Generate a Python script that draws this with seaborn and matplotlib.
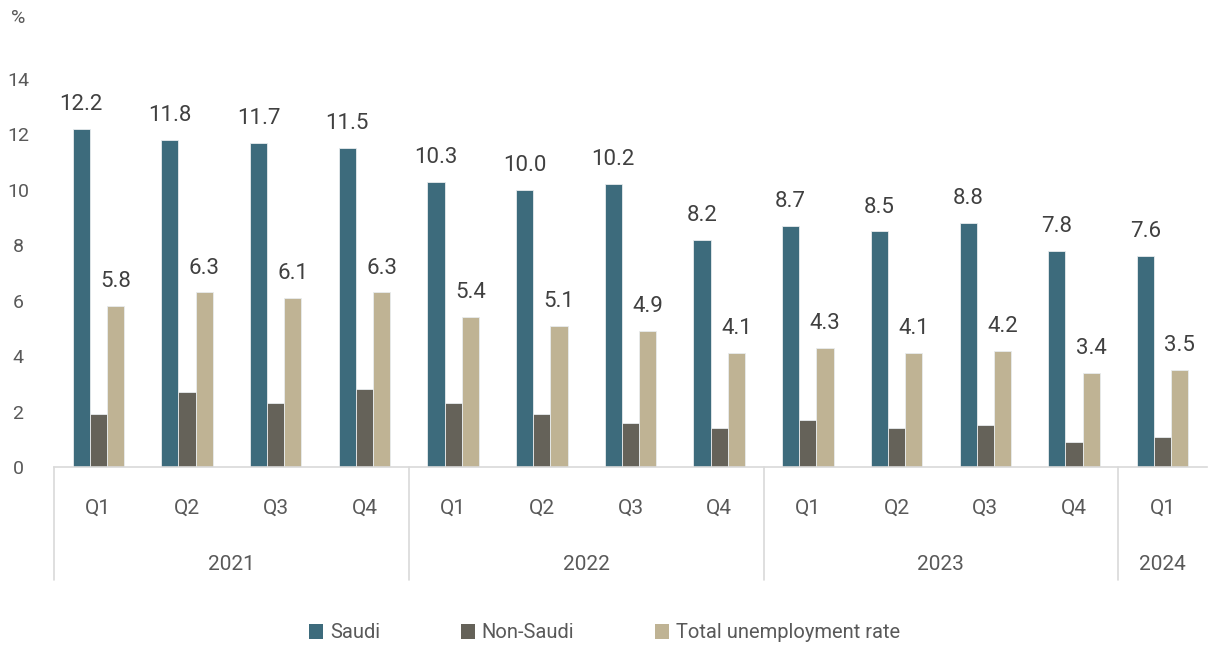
import matplotlib
matplotlib.use("Agg")
import matplotlib.pyplot as plt
import matplotlib.transforms as mtransforms
from matplotlib.patches import Patch
import numpy as np
import pandas as pd
import seaborn as sns

# Unemployment rate by quarter (%)
years = ["2021", "2022", "2023", "2024"]
quarters_per_year = [4, 4, 4, 1]
quarter_labels = ["Q1", "Q2", "Q3", "Q4", "Q1", "Q2", "Q3", "Q4",
                  "Q1", "Q2", "Q3", "Q4", "Q1"]
saudi = [12.2, 11.8, 11.7, 11.5, 10.3, 10.0, 10.2, 8.2, 8.7, 8.5, 8.8, 7.8, 7.6]
non_saudi = [1.9, 2.7, 2.3, 2.8, 2.3, 1.9, 1.6, 1.4, 1.7, 1.4, 1.5, 0.9, 1.1]
total = [5.8, 6.3, 6.1, 6.3, 5.4, 5.1, 4.9, 4.1, 4.3, 4.1, 4.2, 3.4, 3.5]

series_names = ["Saudi", "Non-Saudi", "Total unemployment rate"]
colors = ["#3d6b7c", "#656259", "#bfb394"]
text_color = "#595959"

period_keys = []
for y, n in zip(years, quarters_per_year):
    for q in range(n):
        period_keys.append(f"{y} Q{q + 1}")

df = pd.concat([
    pd.DataFrame({"period": period_keys, "series": name, "value": vals})
    for name, vals in zip(series_names, [saudi, non_saudi, total])
], ignore_index=True)

sns.set_theme(style="white")
plt.rcParams["font.family"] = ["Roboto", "DejaVu Sans"]

W, H = 1209, 645
fig = plt.figure(figsize=(W / 100, H / 100), dpi=100)
ax_left, ax_right, ax_bottom, ax_top = 54, 1207, 467, 79
ax = fig.add_axes([ax_left / W, (H - ax_bottom) / H,
                   (ax_right - ax_left) / W, (ax_bottom - ax_top) / H])

sns.barplot(data=df, x="period", y="value", hue="series", order=period_keys,
            hue_order=series_names, palette=colors, saturation=1, width=0.58,
            edgecolor="#e8ecee", linewidth=0.6, errorbar=None, ax=ax,
            legend=False)

ax.set_ylim(0, 14)
ax.set_xlim(-0.5, len(period_keys) - 0.5)
ax.set_yticks(np.arange(0, 15, 2))
ax.tick_params(axis="y", length=0, pad=26, labelsize=14, labelcolor=text_color)
for lbl in ax.get_yticklabels():
    lbl.set_horizontalalignment("center")
ax.set_xticks([])
ax.set_xlabel("")
ax.set_ylabel("")
for s in ["top", "right", "left"]:
    ax.spines[s].set_visible(False)
ax.spines["bottom"].set_color("#d9d9d9")
ax.spines["bottom"].set_linewidth(1.2)

# Value labels for Saudi and total series
for container, name in zip(ax.containers, series_names):
    if name == "Non-Saudi":
        continue
    ax.bar_label(container, fmt="%.1f", padding=10, fontsize=16,
                 color="#404040")

# Two-level category axis: quarters, then years with separators
trans = mtransforms.blended_transform_factory(ax.transData, ax.transAxes)
axis_h = ax_bottom - ax_top
for i, q in enumerate(quarter_labels):
    ax.text(i, -41 / axis_h, q, transform=trans, ha="center", va="center",
            fontsize=15, color=text_color)
start = 0
bounds = [-0.5]
for y, n in zip(years, quarters_per_year):
    centre = start + (n - 1) / 2
    ax.text(centre, -98 / axis_h, y, transform=trans, ha="center", va="center",
            fontsize=15, color=text_color)
    start += n
    bounds.append(start - 0.5)
for b in bounds[:-1]:
    ax.plot([b, b], [0, -113 / axis_h], transform=trans, color="#d9d9d9",
            lw=1.2, clip_on=False)

fig.text(18 / W, 1 - 18 / H, "%", ha="center", va="center", fontsize=14,
         color=text_color)

handles = [Patch(facecolor=c, edgecolor="none") for c in colors]
leg = fig.legend(handles, series_names, loc="center", ncol=3, frameon=False,
                 bbox_to_anchor=(0.5, 12 / H), fontsize=14.5,
                 handlelength=0.7, handleheight=0.7, handletextpad=0.35,
                 columnspacing=4.0, borderaxespad=0)
for t in leg.get_texts():
    t.set_color(text_color)

fig.savefig("out.png", dpi=100)
